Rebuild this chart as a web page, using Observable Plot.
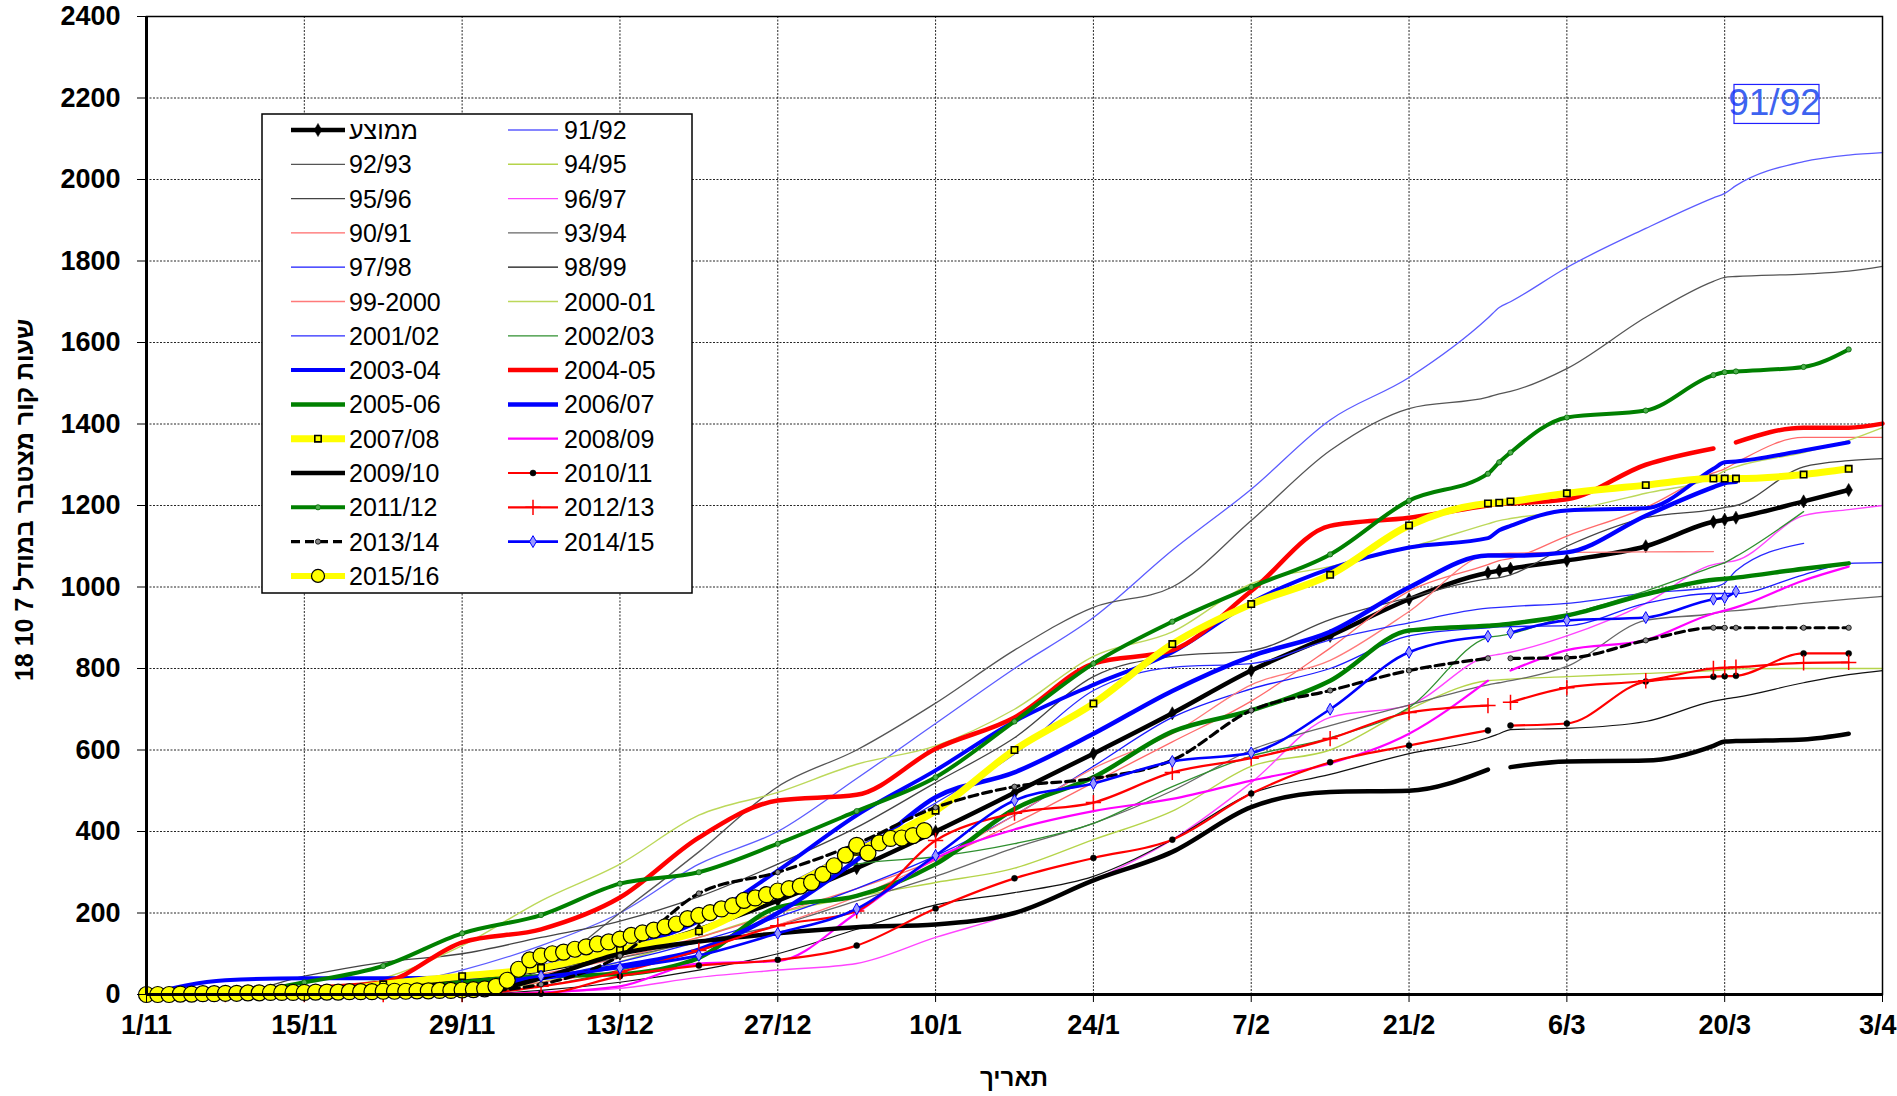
<!DOCTYPE html>
<html><head><meta charset="utf-8">
<script src="https://cdn.jsdelivr.net/npm/d3@7"></script>
<script src="https://cdn.jsdelivr.net/npm/@observablehq/plot@0.6"></script>
<style>
html,body{margin:0;padding:0;background:#fff;}
#chart svg{display:block;}
</style></head><body><div id="chart"></div>
<script>
// x positions: days since 1/11
const days = [0,7,14,21,28,35,42,49,56,63,70,77,84,91,98,105,112,119,120,121,126,133,139,140,141,147,151,154];
const tickDays = [0,14,28,42,56,70,84,98,112,126,140,154];
const tickLabels = ["1/11","15/11","29/11","13/12","27/12","10/1","24/1","7/2","21/2","6/3","20/3","3/4"];
const yTicks = [0,200,400,600,800,1000,1200,1400,1600,1800,2000,2200,2400];

const names = ["ממוצע","91/92","92/93","94/95","95/96","96/97","90/91","93/94","97/98","98/99","99-2000","2000-01","2001/02","2002/03","2003-04","2004-05","2005-06","2006/07","2007/08","2008/09","2009/10","2010/11","2011/12","2012/13","2013/14","2014/15","2015/16"];

const avg   = [0,2,8,18,35,60,100,160,230,310,400,495,591,690,795,880,970,1035,1040,1045,1065,1100,1160,1165,1170,1210,1238,null];
const s9192 = [0,0,5,20,60,120,200,320,400,530,665,800,925,1090,1240,1410,1514,1660,1686,1700,1784,1880,1955,1966,1985,2044,2060,2066];
const s9293 = [0,0,0,5,15,60,200,350,510,600,715,845,950,1000,1163,1335,1438,1466,1474,1480,1536,1662,1750,1760,1762,1768,1775,1787];
const s9495 = [0,0,0,0,5,30,80,140,200,240,275,310,380,450,560,600,700,770,772,774,780,788,795,797,799,800,800,800];
const s9596 = [0,0,45,79,100,140,180,240,320,410,520,630,780,830,844,920,974,1020,1023,1030,1100,1170,1190,1195,1200,1295,1310,1315];
const s9697 = [0,0,0,0,0,5,15,42,60,76,140,199,280,380,520,680,710,830,835,840,880,960,1055,1060,1065,1175,1190,1200];
const s9091 = [0,0,0,5,20,50,90,140,200,260,330,420,520,620,720,850,990,1055,1065,1070,1125,1195,1280,1290,1305,1367,1367,1367];
const s9394 = [0,0,0,10,30,60,90,130,170,230,290,360,420,500,600,660,710,760,765,770,805,918,935,940,942,960,970,977];
const s9798 = [0,0,0,0,10,40,80,130,190,260,340,440,560,680,750,800,880,900,902,903,905,960,984,984,984,1030,1058,1060];
const s9899 = [0,0,0,0,0,10,30,60,100,160,220,250,290,380,493,540,591,630,640,650,653,670,720,725,729,765,785,795];
const s9900 = [0,0,0,0,10,30,60,110,170,240,330,440,555,640,760,820,940,1080,1082,1083,1085,1086,1087,null,null,null,null,null];
const s0001 = [0,0,10,40,120,230,320,440,496,565,610,700,830,890,1008,1050,1097,1155,1163,1168,1187,1230,1270,1285,1295,1330,1360,1391];
const s0102 = [0,0,0,10,30,60,110,180,260,360,470,590,746,803,812,870,912,948,950,952,960,985,1000,1010,1040,1107,null,null];
const s0203 = [0,0,0,0,5,20,60,110,200,320,338,370,420,510,585,630,704,876,880,885,930,990,1050,1060,1075,1185,null,null];
const s0304 = [0,35,40,40,42,70,110,180,304,440,550,670,760,840,962,1045,1097,1120,1139,1150,1188,1193,1290,1306,1308,1335,1355,null];
const s0405 = [0,0,15,30,128,160,238,385,476,490,603,680,812,845,990,1150,1170,1200,1204,1205,1215,1300,1340,null,1355,1391,1391,1401];
const s0506 = [0,0,0,5,30,45,50,90,214,242,320,455,533,645,697,770,893,905,907,910,930,982,1018,1020,1023,1045,1058,null];
const s0607 = [0,0,0,5,20,40,70,110,200,330,484,545,640,745,830,890,999,1077,1077,1077,1085,1175,1245,1255,1258,null,null,null];
const s0708 = [0,0,0,25,45,65,110,155,250,350,451,600,714,860,958,1030,1151,1205,1207,1210,1230,1250,1266,1266,1266,1276,1290,null];
const s0809 = [0,0,0,0,0,5,20,76,82,200,334,405,450,480,525,567,640,770,null,795,845,870,935,942,950,1016,1050,null];
const s0910 = [0,0,0,0,0,40,100,130,150,165,172,200,280,350,460,497,500,552,null,558,572,574,610,621,622,626,640,null];
const s1011 = [0,0,0,0,0,2,45,71,85,120,211,285,335,380,493,570,611,648,null,660,665,768,780,781,782,837,837,null];
const s1112 = [0,0,30,70,150,195,272,300,370,450,533,670,812,915,1000,1080,1212,1278,1306,1330,1416,1433,1520,1527,1529,1540,1583,null];
const s1213 = [0,0,0,0,0,20,55,108,169,205,378,445,471,545,580,628,692,709,null,717,753,770,800,802,803,814,815,null];
const s1314 = [0,0,0,0,5,25,95,248,300,370,459,510,530,575,697,746,795,825,null,825,826,869,900,900,900,900,900,null];
const s1415 = [0,0,0,5,20,45,65,96,150,210,341,476,518,572,593,700,840,879,null,888,918,925,970,974,989,null,null,null];
// 2015/16: one value per day from 1/11
const s1516 = [0,0,0,1,1,2,2,3,3,4,4,5,5,5,5,6,6,6,7,7,7,8,8,8,9,9,10,10,11,12,14,20,35,62,85,95,100,104,111,117,124,129,136,145,151,158,166,173,186,194,201,210,218,231,237,245,254,260,266,275,295,316,342,366,347,372,383,384,390,402];

const valuesList = [avg,s9192,s9293,s9495,s9596,s9697,s9091,s9394,s9798,s9899,s9900,s0001,s0102,s0203,s0304,s0405,s0506,s0607,s0708,s0809,s0910,s1011,s1112,s1213,s1314,s1415,s1516];

// styles
const colors = ["#000","#5c5cff","#555","#b5d44a","#444","#ff44ff","#ff6a6a","#666","#1a1aff","#111","#ff7a7a","#bcd85a","#2a2aff","#2f8f2f","#0000ff","#ff0000","#008000","#0000ff","#ffff00","#ff00ff","#000","#ff0000","#008000","#ff0000","#000","#0000ff","#ffff00"];
const widths = [4.5,1.3,1.3,1.4,1.3,1.4,1.3,1.3,1.3,1.2,1.3,1.4,1.3,1.3,4,4.5,4.5,4.5,7,2.2,4.5,2.2,4,2.2,3.2,2.6,6];
const dashes = names.map(n => n === "2013/14" ? "9,5" : null);
const markers = {
  "ממוצע": {symbol:"diamond", r:4, fill:"#000", stroke:"#000", sw:0.5},
  "2007/08": {symbol:"square", r:3.6, fill:"#ffff00", stroke:"#000", sw:1.6},
  "2010/11": {symbol:"circle", r:3, fill:"#000", stroke:"#000", sw:0.5},
  "2011/12": {symbol:"circle", r:2.6, fill:"#4caf4c", stroke:"#006400", sw:0.8},
  "2012/13": {symbol:"plus", r:5, fill:"none", stroke:"#ff0000", sw:1.5},
  "2013/14": {symbol:"circle", r:2.6, fill:"#888", stroke:"#000", sw:0.8},
  "2014/15": {symbol:"diamond", r:3.6, fill:"#9999ff", stroke:"#0000ff", sw:1},
  "2015/16": {symbol:"circle", r:8, fill:"#ffff00", stroke:"#000", sw:1.2}
};

function rowsOf(i) {
  const vals = valuesList[i];
  const xs = names[i] === "2015/16" ? vals.map((_, k) => k) : days;
  return xs.map((d, k) => ({name: names[i], day: d, value: vals[k]}));
}

const marks = [
  Plot.gridX(tickDays, {stroke: "#000", strokeOpacity: 0.85, strokeDasharray: "2,1.5", strokeWidth: 1}),
  Plot.gridY(yTicks, {stroke: "#000", strokeOpacity: 0.85, strokeDasharray: "2,1.5", strokeWidth: 1})
];
names.forEach((n, i) => {
  const rows = rowsOf(i);
  marks.push(Plot.line(rows, {x: "day", y: "value", stroke: colors[i], strokeWidth: widths[i],
    strokeDasharray: dashes[i] || undefined, curve: "monotone-x"}));
  const m = markers[n];
  if (m) marks.push(Plot.dot(rows.filter(d => d.value != null), {x: "day", y: "value", symbol: m.symbol, r: m.r,
    fill: m.fill, stroke: m.stroke, strokeWidth: m.sw}));
});
const lab9192 = rowsOf(1).slice(-1);
marks.push(
  Plot.text(lab9192, {x: "day", y: "value", text: "name", dx: -108, dy: -49, fill: "#3d63f0", fontSize: 37, fontWeight: "normal", className: "annot"}),
  Plot.frame({stroke: "#000", strokeWidth: 1.5}),
  Plot.ruleX([0], {stroke: "#000", strokeWidth: 3}),
  Plot.ruleY([0], {stroke: "#000", strokeWidth: 3}),
  Plot.axisX(tickDays, {tickFormat: d => tickLabels[tickDays.indexOf(d)], tickSize: 8, tickPadding: 12, fontSize: 27, fontWeight: "bold", label: null}),
  Plot.axisY(yTicks, {tickFormat: d => String(d), tickSize: 9, tickPadding: 17, fontSize: 27, fontWeight: "bold", label: null})
);

const chart = Plot.plot({
  width: 1897, height: 1096,
  marginLeft: 146, marginRight: 15, marginTop: 16, marginBottom: 102,
  x: {domain: [0, 154]},
  y: {domain: [0, 2400]},
  style: {fontFamily: "'Liberation Sans', Arial, sans-serif", background: "#fff", color: "#000", overflow: "visible"},
  marks
});
document.getElementById("chart").appendChild(chart);

const svg = d3.select(chart);
const svgBox = chart.getBoundingClientRect();
// annotation box
const at = chart.querySelector(".annot text");
if (at) {
  const b = at.getBoundingClientRect();
  const cx = b.left - svgBox.left + b.width / 2 + 2, cy = b.top - svgBox.top + b.height / 2 + 1;
  svg.append("rect").attr("x", cx - 42.5).attr("y", cy - 19.5).attr("width", 85).attr("height", 39)
    .attr("fill", "none").attr("stroke", "#2020ff").attr("stroke-width", 1.2);
}
// keep last x tick label inside the page
svg.selectAll("text").filter(function() { return this.textContent === "3/4"; })
  .attr("text-anchor", "end").attr("dx", 14);

// axis titles
svg.append("text").attr("transform", "translate(24,500) rotate(-90)").attr("text-anchor", "middle")
  .attr("dominant-baseline", "central").attr("font-size", 25).attr("font-weight", "bold")
  .attr("font-family", "'Liberation Sans', Arial, sans-serif").text("שעות קור מצטבר במודל 7 10 18");
svg.append("text").attr("x", 1014).attr("y", 1077).attr("text-anchor", "middle")
  .attr("dominant-baseline", "central").attr("font-size", 24).attr("font-weight", "bold")
  .attr("font-family", "'Liberation Sans', Arial, sans-serif").text("תאריך");

// legend
const lg = svg.append("g").attr("font-family", "'Liberation Sans', Arial, sans-serif").attr("text-anchor", "start");
lg.append("rect").attr("x", 262).attr("y", 114).attr("width", 430).attr("height", 479)
  .attr("fill", "#fff").attr("stroke", "#000").attr("stroke-width", 1.5);
const symMap = {circle: d3.symbolCircle, square: d3.symbolSquare, diamond: d3.symbolDiamond, plus: d3.symbolPlus};
names.forEach((n, i) => {
  const row = Math.floor(i / 2), col = i % 2;
  const y = 130 + 34.3 * row;
  const x1 = col ? 508 : 291, x2 = col ? 558 : 345, tx = col ? 564 : 349;
  lg.append("line").attr("x1", x1).attr("x2", x2).attr("y1", y).attr("y2", y)
    .attr("stroke", colors[i]).attr("stroke-width", widths[i]).attr("stroke-dasharray", dashes[i]);
  const m = markers[n];
  if (m) {
    const r = n === "2015/16" ? 6.5 : m.r;
    lg.append("path").attr("transform", `translate(${(x1 + x2) / 2},${y})`)
      .attr("d", d3.symbol(symMap[m.symbol], Math.PI * r * r)())
      .attr("fill", m.fill).attr("stroke", m.stroke).attr("stroke-width", m.sw);
  }
  lg.append("text").attr("x", tx).attr("y", y).attr("dominant-baseline", "central")
    .attr("text-anchor", "start").attr("font-size", 25).attr("fill", "#000").text(n);
});
</script></body></html>
